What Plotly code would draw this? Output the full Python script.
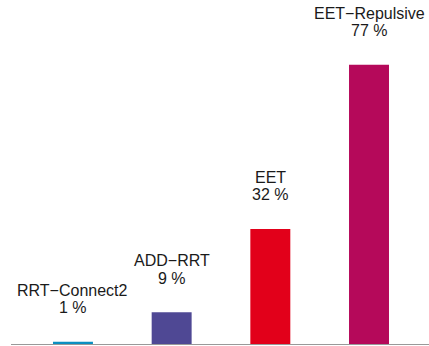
import plotly.graph_objects as go

methods = ["RRT−Connect2", "ADD−RRT", "EET", "EET−Repulsive"]
values = [0.6, 8.8, 31.8, 77.2]
pct_labels = ["1 %", "9 %", "32 %", "77 %"]
colors = ["#0b8fc1", "#4f4894", "#e2001a", "#b5095a"]

xs = list(range(len(methods)))

fig = go.Figure()
fig.add_trace(go.Bar(x=xs, y=values, width=0.405, marker=dict(color=colors, line=dict(width=0)),
                     hoverinfo="skip"))

font = dict(family="Liberation Sans, Arial, sans-serif", size=16, color="#1a1a1a")
for x, v, name, pct in zip(xs, values, methods, pct_labels):
    fig.add_annotation(x=x, y=v, text=pct, showarrow=False, yanchor="middle",
                       xanchor="center", yshift=34, font=font)
    fig.add_annotation(x=x, y=v, text=name, showarrow=False, yanchor="middle",
                       xanchor="center", yshift=51.5, font=font)

fig.update_layout(
    width=429, height=346,
    margin=dict(l=11, r=0, t=0, b=2),
    paper_bgcolor="white", plot_bgcolor="white",
    showlegend=False,
    xaxis=dict(range=[-0.628, 3.608], showgrid=False, zeroline=False, showticklabels=False,
               ticks="", showline=True, linecolor="#999999", linewidth=1),
    yaxis=dict(range=[0, 95.1], showgrid=False, zeroline=False, showticklabels=False,
               ticks="", showline=False),
)
fig.write_html("out.html")
